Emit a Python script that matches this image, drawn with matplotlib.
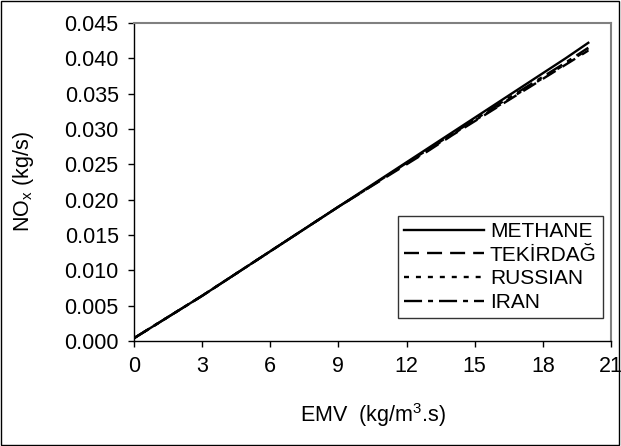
import numpy as np
import matplotlib
matplotlib.use('Agg')
import matplotlib.pyplot as plt
from matplotlib.patches import Rectangle

plt.rcParams['font.family'] = ['Liberation Sans', 'DejaVu Sans']
plt.rcParams['mathtext.fontset'] = 'custom'
plt.rcParams['mathtext.rm'] = 'Liberation Sans'
plt.rcParams['mathtext.it'] = 'Liberation Sans'
plt.rcParams['lines.scale_dashes'] = False

# NOx emission rate vs EMV for the four fuels
emv = [0, 1, 2, 3, 4, 5, 6, 7, 8, 9, 10, 11, 12, 13, 14, 15, 16, 17, 18, 19, 20]
methane = [0.0004, 0.0024, 0.0044, 0.0064, 0.0085, 0.0106, 0.0127, 0.0148, 0.0169, 0.0190, 0.0211,
           0.0232, 0.0253, 0.0274, 0.0295, 0.0316, 0.0337, 0.0358, 0.0379, 0.0400, 0.0422]
tekirdag = [0.0004, 0.0024, 0.0044, 0.0064, 0.0085, 0.0106, 0.0127, 0.0148, 0.0169, 0.0190, 0.0210,
            0.0230, 0.0250, 0.0270, 0.0291, 0.0311, 0.0331, 0.0351, 0.0371, 0.0391, 0.0411]
russian = [0.0004, 0.0024, 0.0044, 0.0064, 0.0085, 0.0106, 0.0127, 0.0148, 0.0169, 0.0190, 0.0210,
           0.0231, 0.0251, 0.0271, 0.0292, 0.0312, 0.0332, 0.0352, 0.0372, 0.0392, 0.0413]
iran = [0.0004, 0.0024, 0.0044, 0.0064, 0.0085, 0.0106, 0.0127, 0.0148, 0.0169, 0.0190, 0.0210,
        0.0231, 0.0252, 0.0272, 0.0293, 0.0313, 0.0334, 0.0354, 0.0374, 0.0394, 0.0415]

xticks = [0, 3, 6, 9, 12, 15, 18, 21]
yticks = [0.000, 0.005, 0.010, 0.015, 0.020, 0.025, 0.030, 0.035, 0.040, 0.045]

fig = plt.figure(figsize=(6.21, 4.46), dpi=100)
ax = fig.add_axes([0.2158, 0.2354, 0.7681, 0.713])

fs = 15.5
lw = 1.7
ax.plot(emv, methane, color='black', lw=lw, linestyle='-', label='METHANE')
ax.plot(emv, tekirdag, color='black', lw=lw, dashes=(10.8, 5.8), label='TEKİRDAĞ')
ax.plot(emv, russian, color='black', lw=lw, dashes=(3.6, 5.0), label='RUSSIAN')
ax.plot(emv, iran, color='black', lw=lw, dashes=(13, 4.3, 3.6, 4.3), label='IRAN')

ax.set_xlim(0, 21)
ax.set_ylim(0, 0.045)
ax.set_xticks(xticks)
ax.set_yticks(yticks)
ax.set_yticklabels(['%.3f' % v for v in yticks])
ax.tick_params(direction='out', length=4, width=1, labelsize=fs, pad=7)

for side in ['left', 'bottom']:
    ax.spines[side].set_color('black')
    ax.spines[side].set_linewidth(1)
for side in ['top', 'right']:
    ax.spines[side].set_color('#808080')
    ax.spines[side].set_linewidth(1.5)

ax.set_xlabel('EMV  (kg/m$^3$.s)', fontsize=fs, labelpad=17)
ax.set_ylabel('NO$_\\mathrm{x}$ (kg/s)', fontsize=fs, labelpad=20)

leg = ax.legend(loc='lower right', bbox_to_anchor=(0.983, 0.072), fontsize=15,
                frameon=True, fancybox=False, handlelength=3.8, handletextpad=0.3,
                labelspacing=0.22, borderpad=0.3, borderaxespad=0)
leg.get_frame().set_edgecolor('black')
leg.get_frame().set_linewidth(1)

fig.patches.append(Rectangle((0.002, 0.003), 0.995, 0.994, transform=fig.transFigure,
                             fill=False, edgecolor='black', linewidth=1))

fig.savefig('out.png', dpi=100)
